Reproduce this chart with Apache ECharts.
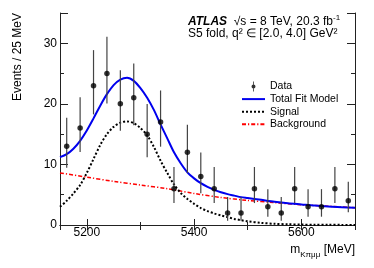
<!DOCTYPE html>
<html><head><meta charset="utf-8">
<script src="https://cdn.jsdelivr.net/npm/echarts@6/dist/echarts.min.js"></script>
<style>html,body{margin:0;padding:0;background:#fff}#c{width:374px;height:268px}</style>
</head><body><div id="c"></div>
<script>
// ---- data ----
const binCenters = [5162.5,5187.5,5212.5,5237.5,5262.5,5287.5,5312.5,5337.5,5362.5,5387.5,5412.5,5437.5,5462.5,5487.5,5512.5,5537.5,5562.5,5587.5,5612.5,5637.5,5662.5,5687.5];
const counts     = [13,16,23,25,20,21,15,17,6,12,8,6,2,2,6,3,2,6,3,3,6,4];
const errLow     = [3.56,3.95,4.74,4.95,4.42,4.53,3.82,4.07,2.38,3.41,2.76,2.38,1.29,1.29,2.38,1.63,1.29,2.38,1.63,1.63,2.38,1.91];
const errHigh    = [4.71,5.09,5.87,6.07,5.56,5.66,4.97,5.21,3.58,4.57,3.96,3.58,2.64,2.64,3.58,2.92,2.64,3.58,2.92,2.92,3.58,3.16];

const curveMass = [5150,5162.5,5175,5187.5,5200,5212.5,5225,5237.5,5250,5262.5,5275,5287.5,5300,5312.5,5325,5337.5,5350,5362.5,5375,5387.5,5400,5412.5,5425,5437.5,5450,5462.5,5475,5487.5,5500,5525,5550,5575,5600,5625,5650,5675,5700];
const totalFit  = [11.2,11.7,12.6,13.9,15.6,17.6,19.7,21.6,23.1,24.0,24.3,23.8,22.6,21.0,19.0,16.6,14.3,12.0,10.2,8.7,7.7,6.9,6.3,5.8,5.4,5.1,4.85,4.6,4.45,4.15,3.85,3.6,3.4,3.2,3.05,2.95,2.85];
const signalFit = [3.0,4.0,5.2,6.6,8.6,10.9,13.2,15.0,16.2,16.9,17.1,16.8,16.0,14.8,12.9,10.6,8.6,6.7,5.3,4.3,3.5,2.8,2.3,1.9,1.6,1.3,1.0,0.8,0.6,0.35,0.2,0.12,0.07,0.04,0.03,0.02,0.01];
const bkgMass = [5150,5200,5250,5300,5350,5400,5450,5500,5550,5600,5650,5700];
const bkgFit  = [8.6,7.9,7.2,6.6,6.0,5.2,4.55,4.05,3.7,3.35,3.1,2.85];

const xTickLabels = [5200,5400,5600];
const yTickLabels = [0,10,20,30];

const FONT = "'Liberation Sans', Arial, Helvetica, sans-serif";
const zip = (a,b) => a.map((v,i)=>[v,b[i]]);
const xMin = 5150, xMax = 5700, yMin = 0, yMax = 35;
const frame = {show:true, lineStyle:{color:'#222', width:1}};
const noSymbol = {color:'rgba(0,0,0,0)', borderWidth:0, opacity:0};

const chart = echarts.init(document.getElementById('c'), null, {renderer:'canvas'});
chart.setOption({
  animation:false,
  backgroundColor:'#fff',
  grid:{left:60, right:19, top:13, bottom:43},
  xAxis:[
    {type:'value', min:xMin, max:xMax, splitNumber:3, position:'bottom',
     axisLine:frame, splitLine:{show:false},
     axisTick:{show:true, inside:true, length:6, lineStyle:{color:'#222'}},
     axisLabel:{show:true, margin:2, fontSize:12, fontFamily:FONT, color:'#000',
       formatter:v => xTickLabels.indexOf(v) >= 0 ? String(v) : ''}},
    {type:'value', min:xMin, max:xMax, splitNumber:5, position:'bottom',
     axisLine:{show:false}, splitLine:{show:false}, axisLabel:{show:false},
     axisTick:{show:true, inside:true, length:3, lineStyle:{color:'#222'}}},
    {type:'value', min:xMin, max:xMax, splitNumber:5, position:'top',
     axisLine:frame, splitLine:{show:false}, axisLabel:{show:false},
     axisTick:{show:true, inside:true, length:5, lineStyle:{color:'#222'}}}
  ],
  yAxis:[
    {type:'value', min:yMin, max:yMax, interval:10, position:'left',
     axisLine:frame, splitLine:{show:false},
     axisTick:{show:true, inside:true, length:8, lineStyle:{color:'#222'}},
     axisLabel:{show:true, margin:3, fontSize:12, fontFamily:FONT, color:'#000',
       formatter:v => yTickLabels.indexOf(v) >= 0 ? String(v) : ''}},
    {type:'value', min:yMin, max:yMax, interval:5, position:'left',
     axisLine:{show:false}, splitLine:{show:false}, axisLabel:{show:false},
     axisTick:{show:true, inside:true, length:4, lineStyle:{color:'#222'}}},
    {type:'value', min:yMin, max:yMax, interval:10, position:'right',
     axisLine:frame, splitLine:{show:false}, axisLabel:{show:false},
     axisTick:{show:true, inside:true, length:8, lineStyle:{color:'#222'}}},
    {type:'value', min:yMin, max:yMax, interval:5, position:'right',
     axisLine:{show:false}, splitLine:{show:false}, axisLabel:{show:false},
     axisTick:{show:true, inside:true, length:4, lineStyle:{color:'#222'}}}
  ],
  legend:{
    orient:'vertical', left:236, top:76, itemWidth:23, itemHeight:10, itemGap:1.6,
    textStyle:{fontSize:10.5, fontFamily:FONT, color:'#000'},
    data:[
      {name:'Data', icon:'path://M1.6,0 L2.4,0 L2.4,10 L1.6,10 Z M4,5 A2,2 0 1 1 0,5 A2,2 0 1 1 4,5 Z'},
      {name:'Total Fit Model', itemStyle:noSymbol},
      {name:'Signal', itemStyle:noSymbol},
      {name:'Background', itemStyle:noSymbol}]
  },
  graphic:[
    {type:'text', left:188, top:14, z:10,
     style:{text:'{a|ATLAS}{n|  √s = 8 TeV, 20.3 fb}{s|-1}',
       rich:{a:{fontSize:12, fontWeight:'bold', fontStyle:'italic', fontFamily:FONT, fill:'#000', lineHeight:16},
             n:{fontSize:12, fontFamily:FONT, fill:'#000', lineHeight:16},
             s:{fontSize:8, fontFamily:FONT, fill:'#000', lineHeight:10, verticalAlign:'top'}}}},
    {type:'text', left:188, top:28, z:10,
     style:{text:'S5 fold, q² ∈ [2.0, 4.0] GeV²', fontSize:12, fontFamily:FONT, fill:'#000'}},
    {type:'text', x:18, y:13, rotation:Math.PI/2, z:10,
     style:{text:'Events / 25 MeV', fontSize:12, fontFamily:FONT, fill:'#000', align:'right', verticalAlign:'middle'}},
    {type:'text', right:19, top:244, z:10,
     style:{text:'{a|m}{s|Kπμμ}{a| [MeV]}',
       rich:{a:{fontSize:12, fontFamily:FONT, fill:'#000', lineHeight:17},
             s:{fontSize:8, fontFamily:FONT, fill:'#000', lineHeight:10, verticalAlign:'bottom'}}}}
  ],
  series:[
    {name:'Background', type:'line', data:zip(bkgMass,bkgFit), smooth:0.3, symbol:'none',
     lineStyle:{color:'#ff0000', width:1.5, type:[4,2,1.2,2]}, itemStyle:{color:'#ff0000'}, z:2},
    {name:'Signal', type:'line', data:zip(curveMass,signalFit), smooth:0.3, symbol:'none',
     lineStyle:{color:'#000', width:2, type:[2,2]}, itemStyle:{color:'#000'}, z:2},
    {name:'Total Fit Model', type:'line', data:zip(curveMass,totalFit), smooth:0.3, symbol:'none',
     lineStyle:{color:'#0000ee', width:2}, itemStyle:{color:'#0000ee'}, z:3},
    {type:'custom', z:4, silent:true,
     data:binCenters.map((x,i)=>[x, counts[i]-errLow[i], counts[i]+errHigh[i]]),
     encode:{x:0, y:[1,2]},
     renderItem:(params, api) => {
       const p1 = api.coord([api.value(0), api.value(1)]);
       const p2 = api.coord([api.value(0), api.value(2)]);
       return {type:'line', shape:{x1:p1[0], y1:p1[1], x2:p2[0], y2:p2[1]},
               style:{stroke:'#444', lineWidth:1.2}};
     }},
    {name:'Data', type:'scatter', data:zip(binCenters,counts), symbol:'circle', symbolSize:5.5,
     itemStyle:{color:'#000'}, z:5}
  ]
});
</script></body></html>
